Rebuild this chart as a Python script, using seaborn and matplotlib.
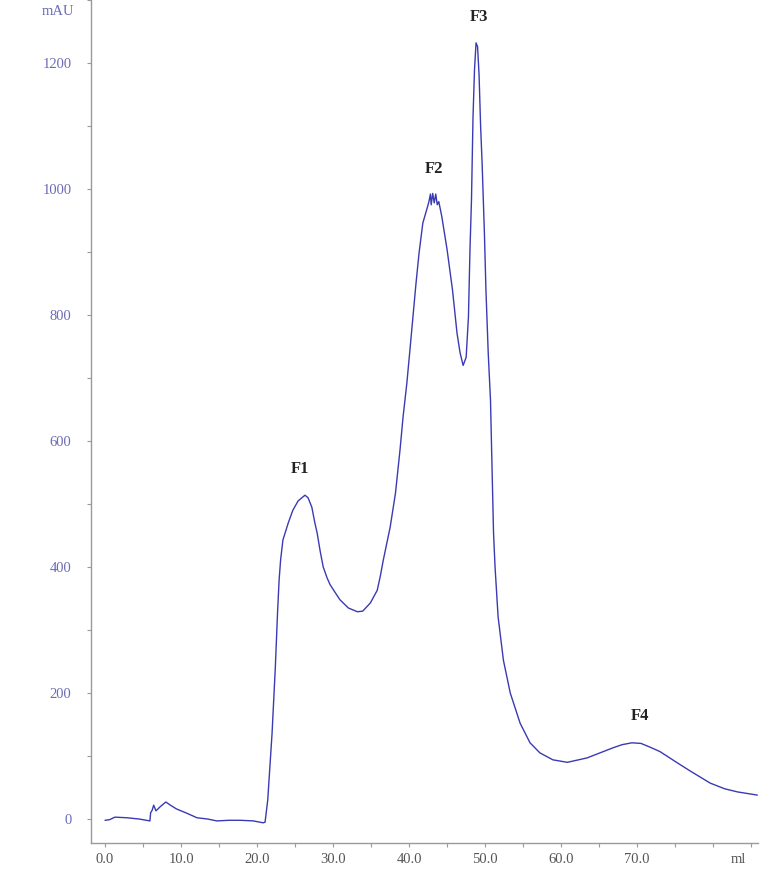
import matplotlib

matplotlib.use("Agg")
import matplotlib.pyplot as plt
import pandas as pd
import seaborn as sns
from matplotlib.ticker import MultipleLocator, FixedLocator

# chromatogram trace (volume in ml, absorbance in mAU)
volume_ml = [
    0.0, 0.6, 1.3, 2.9, 4.5, 5.9, 6.0, 6.2, 6.4, 6.7, 7.3, 8.0, 8.6, 9.4,
    10.8, 12.1, 13.5, 14.7, 16.3, 17.8, 19.5, 20.8, 21.05, 21.4, 21.97, 22.4,
    22.7, 22.9, 23.1, 23.4, 24.1, 24.7, 25.4, 26.3, 26.7, 27.2, 27.6, 27.9,
    28.3, 28.7, 29.2, 29.6, 30.3, 30.9, 32.0, 33.2, 33.9, 34.9, 35.8, 36.2,
    36.6, 37.5, 38.2, 38.8, 39.2, 39.7, 40.1, 40.5, 40.9, 41.3, 41.8, 42.4,
    42.6, 42.8, 42.9, 43.1, 43.3, 43.5, 43.7, 43.9, 44.3, 45.0, 45.7, 46.3,
    46.7, 47.1, 47.5, 47.8, 48.0, 48.2, 48.4, 48.6, 48.8, 49.0, 49.2, 49.4,
    49.6, 49.9, 50.1, 50.4, 50.7, 50.9, 51.1, 51.3, 51.7, 52.4, 53.3, 54.6,
    55.9, 57.2, 58.9, 60.8, 63.4, 65.1, 66.8, 68.0, 69.3, 70.5, 71.7, 73.0,
    75.3, 77.0, 79.6, 81.5, 83.2, 85.8,
]
absorbance_mau = [
    -2, -1, 3, 2, 0, -3, 10, 14, 22, 13, 20, 27, 22, 16,
    9, 2, 0, -3, -2, -2, -3, -6, -5, 30, 136, 241,
    330, 380, 412, 443, 470, 490, 505, 514, 510, 495, 470, 454,
    425, 400, 383, 372, 359, 348, 335, 329, 330, 343, 363, 385,
    411, 463, 517, 586, 638, 692, 744, 797, 850, 898, 946, 971,
    980, 992, 975, 993, 978, 992, 975, 980, 956, 903, 840, 771,
    740, 720, 733, 797, 903, 983, 1114, 1190, 1232, 1226, 1180, 1100,
    1040, 930, 840, 740, 665, 559, 454, 400, 321, 252, 200, 152,
    121, 105, 94, 90, 97, 105, 113, 118, 121, 120, 114, 107,
    89, 76, 57, 48, 43, 38,
]

peak_names = ["F1", "F2", "F3", "F4"]
peak_x = [25.7, 43.3, 49.2, 70.4]
peak_y = [556, 1032, 1273, 163]

x_ticks = [0, 10, 20, 30, 40, 50, 60, 70, 80]
x_tick_labels = ["0.0", "10.0", "20.0", "30.0", "40.0", "50.0", "60.0", "70.0", ""]
y_ticks = [0, 200, 400, 600, 800, 1000, 1200]

line_color = "#3a3ab4"
tick_color = "#6b6bb8"
spine_color = "#9a9a9a"

sns.set_theme(style="ticks")
plt.rcParams["font.family"] = ["Liberation Serif", "DejaVu Serif"]

fig = plt.figure(figsize=(7.65, 8.77), dpi=100)
ax = fig.add_axes([0.119, 0.0388, 0.872, 0.9612])

trace = pd.DataFrame({"volume": volume_ml, "mAU": absorbance_mau})
sns.lineplot(data=trace, x="volume", y="mAU", sort=False, estimator=None,
             color=line_color, linewidth=1.0, ax=ax)

ax.set_xlim(-1.84, 85.9)
ax.set_ylim(-38, 1300)
ax.set_xlabel("")
ax.set_ylabel("")

ax.xaxis.set_major_locator(FixedLocator(x_ticks))
ax.set_xticklabels(x_tick_labels)
ax.xaxis.set_minor_locator(MultipleLocator(5))
ax.yaxis.set_major_locator(FixedLocator(y_ticks))
ax.yaxis.set_minor_locator(MultipleLocator(100))

ax.tick_params(axis="x", which="both", direction="out", length=3, width=0.8,
               colors=spine_color, labelcolor="#555555", labelsize=10.5, pad=4)
ax.tick_params(axis="y", which="both", direction="out", length=3, width=0.8,
               colors=spine_color, labelcolor=tick_color, labelsize=10.5, pad=11)

for side in ["top", "right"]:
    ax.spines[side].set_visible(False)
for side in ["left", "bottom"]:
    ax.spines[side].set_color(spine_color)
    ax.spines[side].set_linewidth(1.0)

for name, px, py in zip(peak_names, peak_x, peak_y):
    ax.text(px, py, name, ha="center", va="center", fontsize=12,
            fontweight="bold", color="#222222")

ax.text(-6.2, 1281, "mAU", ha="center", va="center", fontsize=10.5,
        color=tick_color, clip_on=False)
ax.text(83.3, -64, "ml", ha="center", va="center", fontsize=10.5,
        color="#555555", clip_on=False)

fig.savefig("out.png", dpi=100)
plt.close(fig)
